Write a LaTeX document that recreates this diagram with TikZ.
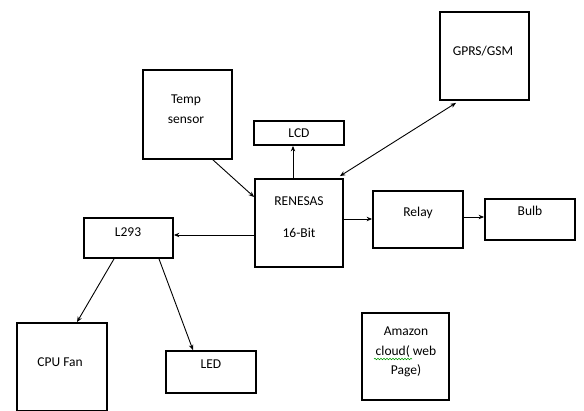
\documentclass[tikz,border=0pt]{standalone}
\usepackage{fontspec}
\setmainfont{Carlito}
\usetikzlibrary{arrows.meta,decorations.pathmorphing,calc}
\begin{document}
\begin{tikzpicture}[x=1pt,y=-1pt,
  box/.style={draw, line width=1.8pt, inner sep=0pt},
  lbl/.style={font=\fontsize{13.5}{19.5}\selectfont, align=center, inner sep=0pt},
  arr/.style={-{Stealth[length=5.5pt,width=4.5pt]}, line width=0.9pt},
  darr/.style={{Stealth[length=5.5pt,width=4.5pt]}-{Stealth[length=5.5pt,width=4.5pt]}, line width=0.9pt}]
\useasboundingbox (0,0) rectangle (584,410);
% boxes
\node[box, minimum width=89pt, minimum height=89pt] (ts) at (187.5,114.5) {};
\node[box, minimum width=90pt, minimum height=24pt] (lcd) at (299,133) {};
\node[box, minimum width=88pt, minimum height=88pt] (ren) at (299,223) {};
\node[box, minimum width=89pt, minimum height=88pt] (gprs) at (484.5,56) {};
\node[box, minimum width=90pt, minimum height=57pt] (relay) at (418,219.5) {};
\node[box, minimum width=90pt, minimum height=41pt] (bulb) at (530,219.5) {};
\node[box, minimum width=89pt, minimum height=40pt] (l293) at (128.5,238) {};
\node[box, minimum width=90pt, minimum height=88pt] (cpu) at (62,367) {};
\node[box, minimum width=90pt, minimum height=42pt] (led) at (211,372) {};
\node[box, minimum width=87pt, minimum height=87pt] (amz) at (405.5,356.5) {};
% labels
\node[lbl] (tsl) at (186,109) {Temp\\sensor};
\node[lbl] (lcdl) at (299,133) {LCD};
\node[lbl] (renl1) at (299,201) {RENESAS};
\node[lbl] (renl2) at (299,233) {16-Bit};
\node[lbl] (gprsl) at (483,51) {GPRS/GSM};
\node[lbl] (relayl) at (418,213) {Relay};
\node[lbl] (bulbl) at (530,211) {Bulb};
\node[lbl] (l293l) at (128,232) {L293};
\node[lbl] (cpul) at (60,362) {CPU Fan};
\node[lbl] (ledl) at (211,364) {LED};
\node[lbl] (amzl) at (406,352) {Amazon\\cloud( web\\Page)};
\draw[green!60!black, line width=0.6pt, decorate, decoration={snake, amplitude=0.7pt, segment length=3pt}] (374,359) -- (412,359);
% connectors
\draw[arr] ([xshift=25.5]ts.south) -- ([yshift=26]ren.west);
\draw[arr] ([xshift=-6]ren.north) -- ([xshift=-6]lcd.south);
\draw[darr] ([xshift=-4,yshift=2]ren.north east) -- ([xshift=-28.5,yshift=-2]gprs.south);
\draw[arr] ([yshift=-12]ren.west) -- ([yshift=3]l293.east);
\draw[arr] ([yshift=4]ren.east) -- ([yshift=0.5]relay.west);
\draw[arr] ([yshift=2.5]relay.east) -- ([yshift=2.5]bulb.west);
\draw[arr] ([xshift=-14.5]l293.south) -- ([xshift=15]cpu.north);
\draw[arr] ([xshift=30.5]l293.south) -- ([xshift=-18]led.north);
\end{tikzpicture}
\end{document}
